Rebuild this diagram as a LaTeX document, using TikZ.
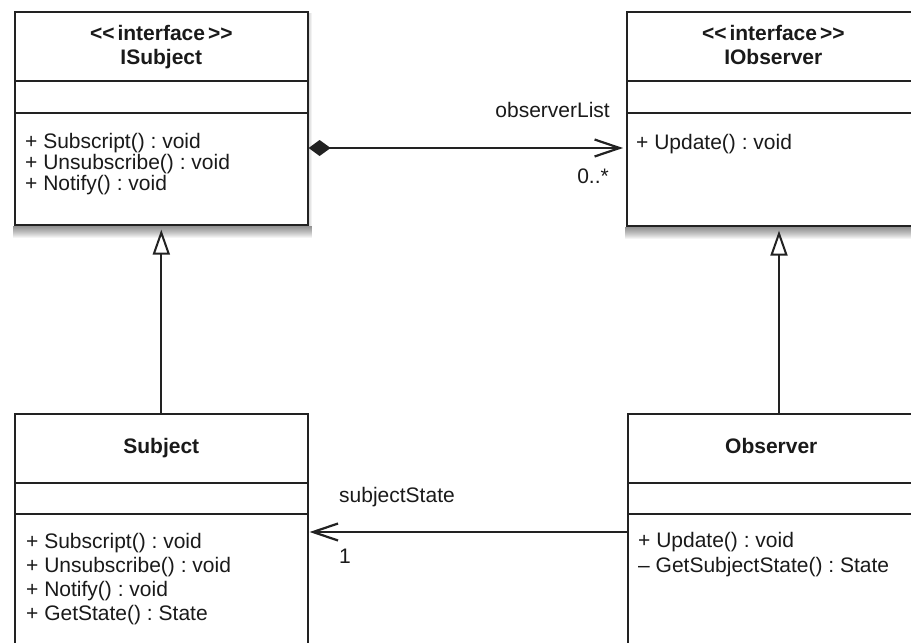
\documentclass[tikz,border=0pt]{standalone}
\usepackage{fontspec}
\setmainfont{Liberation Sans}
\usetikzlibrary{arrows.meta,calc}
\definecolor{ink}{HTML}{222222}
\definecolor{txt}{HTML}{1A1A1A}
\frenchspacing

% soft shadow under the bottom edge and along the right edge of a class box
\newcommand{\boxshadow}[1]{%
  \foreach \k in {1,...,12}{%
    \fill[black,opacity=0.045]
      ($(#1.south west)+(-1,0.8)$) rectangle ($(#1.south east)+(3,{0.8+\k})$);
  }%
  \foreach \k in {1,2,3}{%
    \fill[black,opacity=0.05]
      ($(#1.north east)+(0.8,2)$) rectangle ($(#1.south east)+({0.8+\k},0)$);
  }%
}
\newcommand{\stereo}{<\kern0pt<\kern3pt interface\kern3pt>\kern0pt>}

\begin{document}
\begin{tikzpicture}[x=1pt,y=-1pt,
  classbox/.style={draw=ink, line width=1.6pt, fill=white, rectangle,
    inner sep=0pt, anchor=north west, minimum width=293pt},
  separator/.style={draw=ink, line width=1.6pt},
  boxtitle/.style={font=\bfseries\fontsize{21}{24}\selectfont, text=txt,
    inner sep=0pt, anchor=base},
  member/.style={font=\fontsize{21}{21}\selectfont, text=txt,
    inner sep=0pt, anchor=base west},
  rolelabel/.style={font=\fontsize{21}{21}\selectfont, text=txt, inner sep=0pt},
  generalization/.style={draw=ink, line width=2.2pt,
    -{Triangle[open, length=25pt, width=17pt, line width=2pt, fill=white]}},
  association/.style={draw=ink, line width=2.4pt},
  navtip/.style={-{Straight Barb[length=25pt, width=17pt, line width=2.2pt]}},
]
\useasboundingbox (0,0) rectangle (911,643);
\fill[white] (0,0) rectangle (911,643);
\clip (0,0) rectangle (911,643);

% ---------- class boxes ----------
\node[classbox, minimum height=213pt] (isubj) at (14,11) {};
\node[classbox, minimum height=214pt] (iobs)  at (626,11) {};
\node[classbox, minimum height=260pt] (subj)  at (14,413) {};
\node[classbox, minimum height=260pt] (obs)   at (627,413) {};

\boxshadow{isubj}
\boxshadow{iobs}

% compartment separators
\foreach \b/\a/\c in {isubj/70/102, iobs/70/102, subj/70/101, obs/70/101}{
  \draw[separator] ($(\b.north west)+(0,\a)$) -- ($(\b.north east)+(0,\a)$);
  \draw[separator] ($(\b.north west)+(0,\c)$) -- ($(\b.north east)+(0,\c)$);
}

% ---------- names ----------
\node[boxtitle] (isubj-st) at ($(isubj.north)+(0,29)$) {\stereo};
\node[boxtitle] (isubj-nm) at ($(isubj.north)+(0,53)$) {ISubject};
\node[boxtitle] (iobs-st)  at ($(iobs.north)+(0,29)$) {\stereo};
\node[boxtitle] (iobs-nm)  at ($(iobs.north)+(0,53)$) {IObserver};
\node[boxtitle] (subj-nm)  at ($(subj.north)+(0,40)$) {Subject};
\node[boxtitle] (obs-nm)   at ($(obs.north)+(-3,40)$) {Observer};

% ---------- operations ----------
\foreach \t [count=\i] in {{+ Subscript() : void}, {+ Unsubscribe() : void}, {+ Notify() : void}}
  \node[member] (isubj-op\i) at ($(isubj.north west)+(11,{137+(\i-1)*21.2})$) {\t};

\node[member] (iobs-op1) at ($(iobs.north west)+(10,138)$) {+ Update() : void};

\foreach \t [count=\i] in {{+ Subscript() : void}, {+ Unsubscribe() : void}, {+ Notify() : void}, {+ GetState() : State}}
  \node[member] (subj-op\i) at ($(subj.north west)+(12,{135+(\i-1)*24})$) {\t};

\node[member] (obs-op1) at ($(obs.north west)+(11,134)$) {+ Update() : void};
\node[member] (obs-op2) at ($(obs.north west)+(11,159)$) {\textendash\ GetSubjectState() : State};

% ---------- relationships ----------
\draw[generalization] (subj.north) -- ($(isubj.south)+(0,4)$);
\draw[generalization] ($(obs.north west)+(152,0)$) -- ($(iobs.south west)+(153,4)$);

\draw[association, {Diamond[length=22pt, width=16pt]}-{Straight Barb[length=25pt, width=17pt, line width=2.2pt]}]
  ($(isubj.north east)+(0,137)$) -- ($(iobs.north west)+(-3,137)$);
\draw[association, navtip]
  ($(obs.north west)+(0,119)$) -- ($(subj.north east)+(1,119)$);

% ---------- role names and multiplicities ----------
\node[rolelabel, anchor=base east] (role-obs)  at (610,117) {observerList};
\node[rolelabel, anchor=base east] (mult-obs)  at (609,183) {0..*};
\node[rolelabel, anchor=base west] (role-subj) at (339,502) {subjectState};
\node[rolelabel, anchor=base west] (mult-subj) at (339,563) {1};
\end{tikzpicture}
\end{document}
